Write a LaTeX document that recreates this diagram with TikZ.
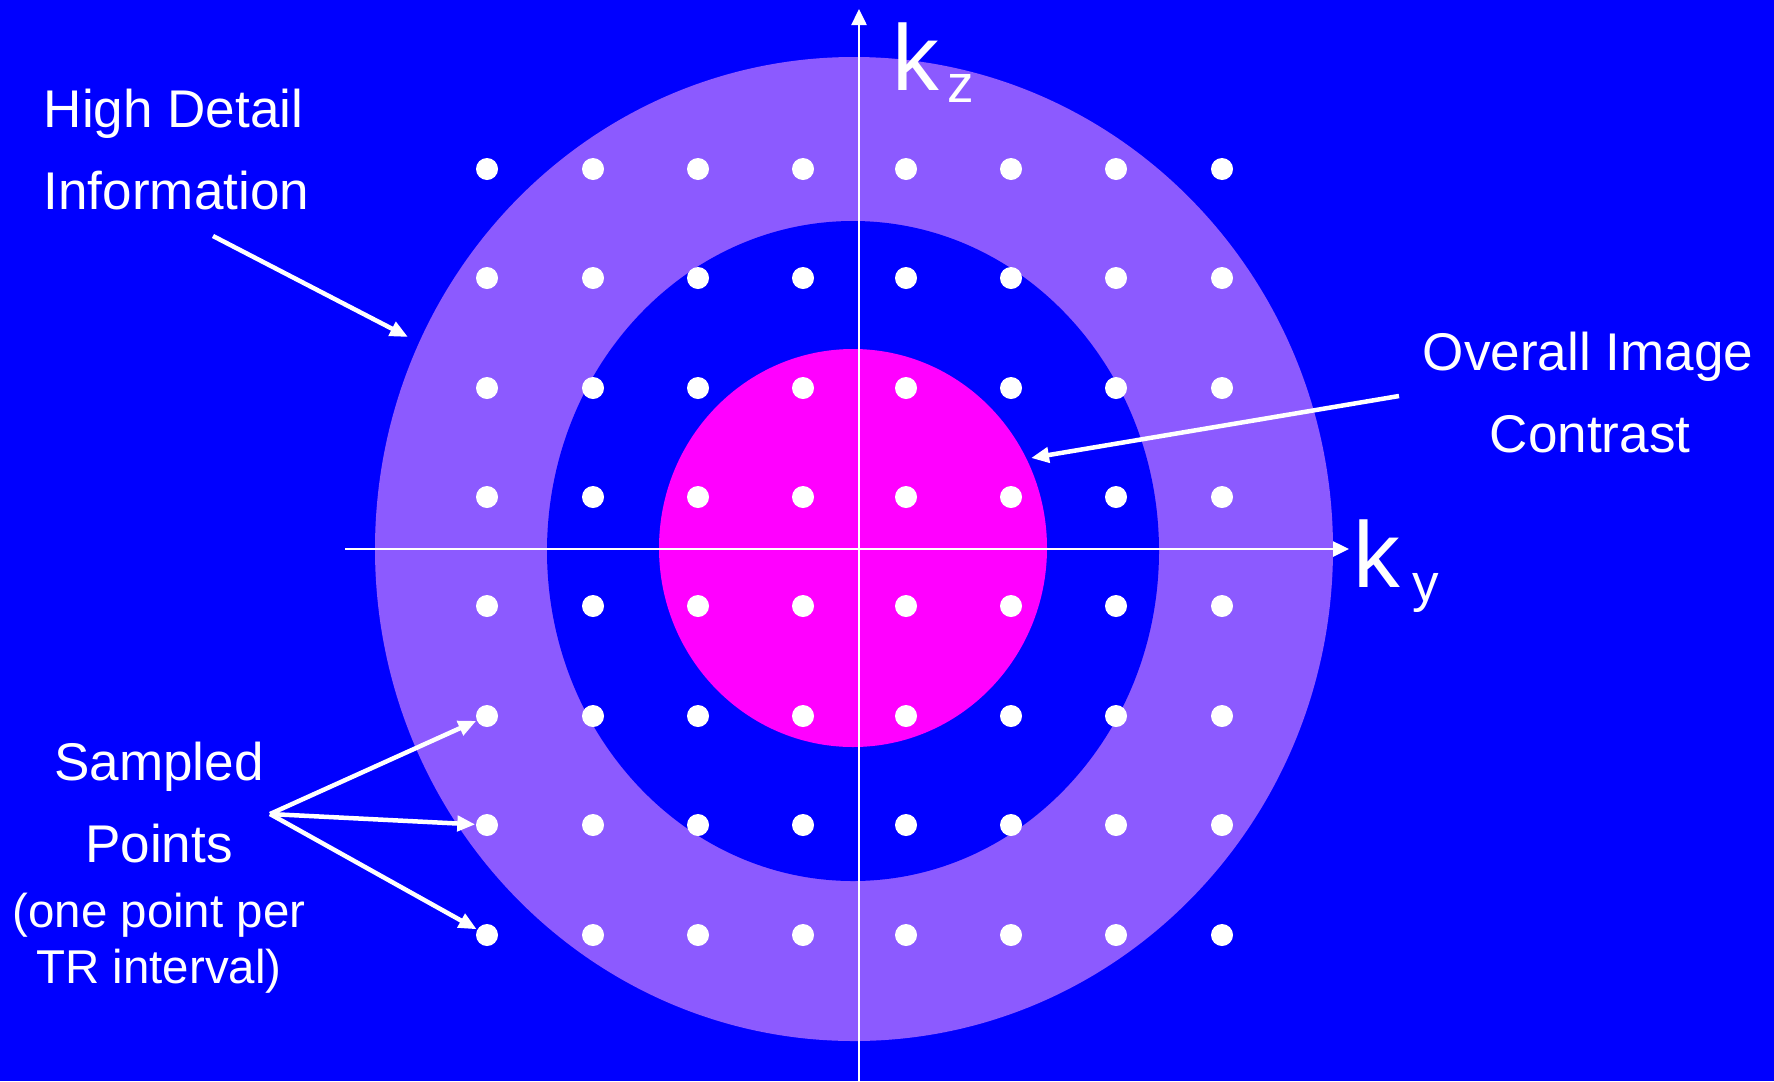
\documentclass[tikz,border=0pt]{standalone}
\usepackage{fontspec}
\setmainfont{Liberation Sans}
\definecolor{kblue}{RGB}{0,0,255}
\definecolor{klavender}{RGB}{140,90,255}
\definecolor{kmagenta}{RGB}{255,0,255}
\usetikzlibrary{arrows.meta,positioning}

\begin{document}
\begin{tikzpicture}[x=0.1mm, y=-0.1mm,
  dot/.style={circle, fill=white, inner sep=0pt, minimum size=2.2mm},
  lbl/.style={text=white, font=\fontsize{15.1}{18}\selectfont, inner sep=0pt},
  small/.style={text=white, font=\fontsize{13.5}{16}\selectfont, inner sep=0pt},
  big/.style={text=white, font=\fontsize{26.6}{30}\selectfont, inner sep=0pt},
  axis/.style={white, line width=0.25mm, -{Triangle[length=1.6mm, width=1.5mm]}},
  pointer/.style={white, line width=0.45mm, -{Triangle[length=1.8mm, width=1.5mm]}}]
  \fill[kblue] (0,0) rectangle (1774,1081);
  \useasboundingbox (0,0) rectangle (1774,1081);
  \fill[klavender] (854,549) ellipse [x radius=479, y radius=492];
  \fill[kblue] (853,551) ellipse [x radius=306, y radius=330];
  \fill[kmagenta] (853,548) ellipse [x radius=194, y radius=199];

  \coordinate (kzlo) at (859,1081);
  \coordinate (kzhi) at (859,9);
  \coordinate (kylo) at (345,549);
  \coordinate (kyhi) at (1349,549);
  \draw[axis] (kzlo) -- (kzhi);
  \draw[axis] (kylo) -- (kyhi);

  \foreach \px [count=\i] in {487,593,698,803,906,1011,1116,1222}
    \foreach \py [count=\j] in {169,278,388,497,606,716,825,935}
      \node[dot] (p\i-\j) at (\px,\py) {};

  \node[big, anchor=base west] (kz) at (892,90) {k};
  \node[lbl, anchor=base west] (kzsub) at (947,102) {z};
  \node[big, anchor=base west] (ky) at (1353,587) {k};
  \node[lbl, anchor=base west] (kysub) at (1412,601) {y};

  \node[lbl, anchor=base west] (hd1) at (43,127) {High Detail};
  \node[lbl, anchor=base west] (hd2) at (43,209) {Information};
  \node[lbl, anchor=base] (oc1) at (1588,370) {Overall Image};
  \node[lbl, anchor=base] (oc2) at (1590,452) {Contrast};
  \node[lbl, anchor=base] (sp1) at (159,780) {Sampled};
  \node[lbl, anchor=base] (sp2) at (159,862) {Points};
  \node[small, anchor=base] (sp3) at (159,927) {(one point per};
  \node[small, anchor=base] (sp4) at (159,983) {TR interval)};

  \coordinate (hdtail) at (213,236);
  \coordinate (hdtip) at (408,337);
  \coordinate (octail) at (1399,396);
  \coordinate (octip) at (1031,458);
  \coordinate (sptail) at (270,814);
  \draw[pointer] (hdtail) -- (hdtip);
  \draw[pointer] (octail) -- (octip);
  \draw[pointer] (sptail) -- (p1-6);
  \draw[pointer] (sptail) -- (p1-7);
  \draw[pointer] (sptail) -- (p1-8);
\end{tikzpicture}
\end{document}
